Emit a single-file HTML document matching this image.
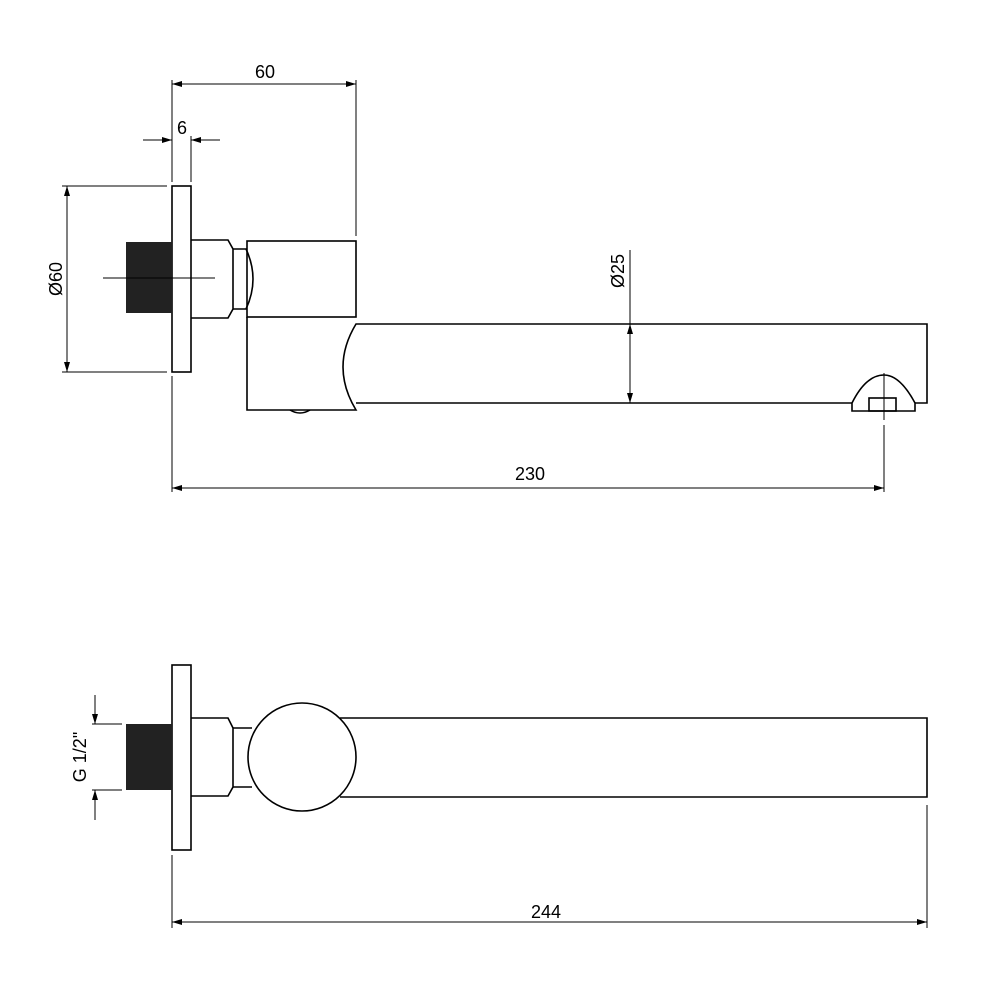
<!DOCTYPE html>
<html><head><style>html,body{margin:0;padding:0;background:#fff}</style></head><body>
<svg width="1000" height="1000" viewBox="0 0 1000 1000" xmlns="http://www.w3.org/2000/svg" font-family="'Liberation Sans', sans-serif">
<defs>
<marker id="a" viewBox="0 0 10 6" refX="10" refY="3" markerWidth="16" markerHeight="6" markerUnits="userSpaceOnUse" orient="auto-start-reverse"><path d="M0,0L10,3L0,6z" fill="#000"/></marker>
</defs>
<g fill="none" stroke="#000" stroke-width="1.6">
<!-- TOP VIEW -->
<rect x="172" y="186" width="19" height="186"/>
<rect x="126" y="242" width="46" height="71" fill="#222" stroke="none"/>
<line x1="103" y1="278" x2="215" y2="278" stroke-width="1"/>
<path d="M191,240H228L233,249V309L228,318H191"/>
<path d="M233,249H246Q260,279 246,309H233"/>
<rect x="247" y="241" width="109" height="76"/>
<path d="M247,317V410H356Q330,367 356,324H927V403H915"/>
<path d="M356,403H852"/>
<path d="M852,403V411H915V403Q900,375 884,375Q866,375 852,403"/>
<rect x="869" y="398" width="27" height="13"/>
<path d="M290,410Q300,416 310,410"/>
<line x1="884" y1="373" x2="884" y2="420" stroke-width="1"/>
</g>
<g stroke="#000" stroke-width="1" fill="none">
<line x1="172" y1="80" x2="172" y2="182"/>
<line x1="356" y1="80" x2="356" y2="236"/>
<line x1="172" y1="84" x2="356" y2="84" marker-start="url(#a)" marker-end="url(#a)"/>
<line x1="191" y1="136" x2="191" y2="182"/>
<line x1="143" y1="140" x2="172" y2="140" marker-end="url(#a)"/>
<line x1="220" y1="140" x2="191" y2="140" marker-end="url(#a)"/>
<line x1="62" y1="186" x2="167" y2="186"/>
<line x1="62" y1="372" x2="167" y2="372"/>
<line x1="67" y1="186" x2="67" y2="372" marker-start="url(#a)" marker-end="url(#a)"/>
<line x1="630" y1="250" x2="630" y2="324"/>
<line x1="630" y1="324" x2="630" y2="403" marker-start="url(#a)" marker-end="url(#a)"/>
<line x1="172" y1="376" x2="172" y2="492"/>
<line x1="884" y1="425" x2="884" y2="492"/>
<line x1="172" y1="488" x2="884" y2="488" marker-start="url(#a)" marker-end="url(#a)"/>
</g>
<g font-size="18" fill="#000" text-anchor="middle">
<text x="265" y="78">60</text>
<text x="182" y="134">6</text>
<text x="530" y="480">230</text>
<text transform="translate(62,279) rotate(-90)">Ø60</text>
<text transform="translate(624,271) rotate(-90)">Ø25</text>
<text x="546" y="918">244</text>
<text transform="translate(86,757) rotate(-90)">G 1/2"</text>
</g>
<!-- BOTTOM VIEW -->
<g fill="none" stroke="#000" stroke-width="1.6">
<rect x="172" y="665" width="19" height="185"/>
<rect x="126" y="724" width="46" height="66" fill="#222" stroke="none"/>
<path d="M191,718H228L233,728V787L228,796H191"/>
<path d="M233,728H252M233,787H252"/>
<circle cx="302" cy="757" r="54"/>
<path d="M340,718H927V797H340"/>
</g>
<g stroke="#000" stroke-width="1" fill="none">
<line x1="92" y1="724" x2="122" y2="724"/>
<line x1="92" y1="790" x2="122" y2="790"/>
<line x1="95" y1="695" x2="95" y2="724" marker-end="url(#a)"/>
<line x1="95" y1="820" x2="95" y2="790" marker-end="url(#a)"/>
<line x1="172" y1="855" x2="172" y2="928"/>
<line x1="927" y1="805" x2="927" y2="928"/>
<line x1="172" y1="922" x2="927" y2="922" marker-start="url(#a)" marker-end="url(#a)"/>
</g>
</svg>
</body></html>
